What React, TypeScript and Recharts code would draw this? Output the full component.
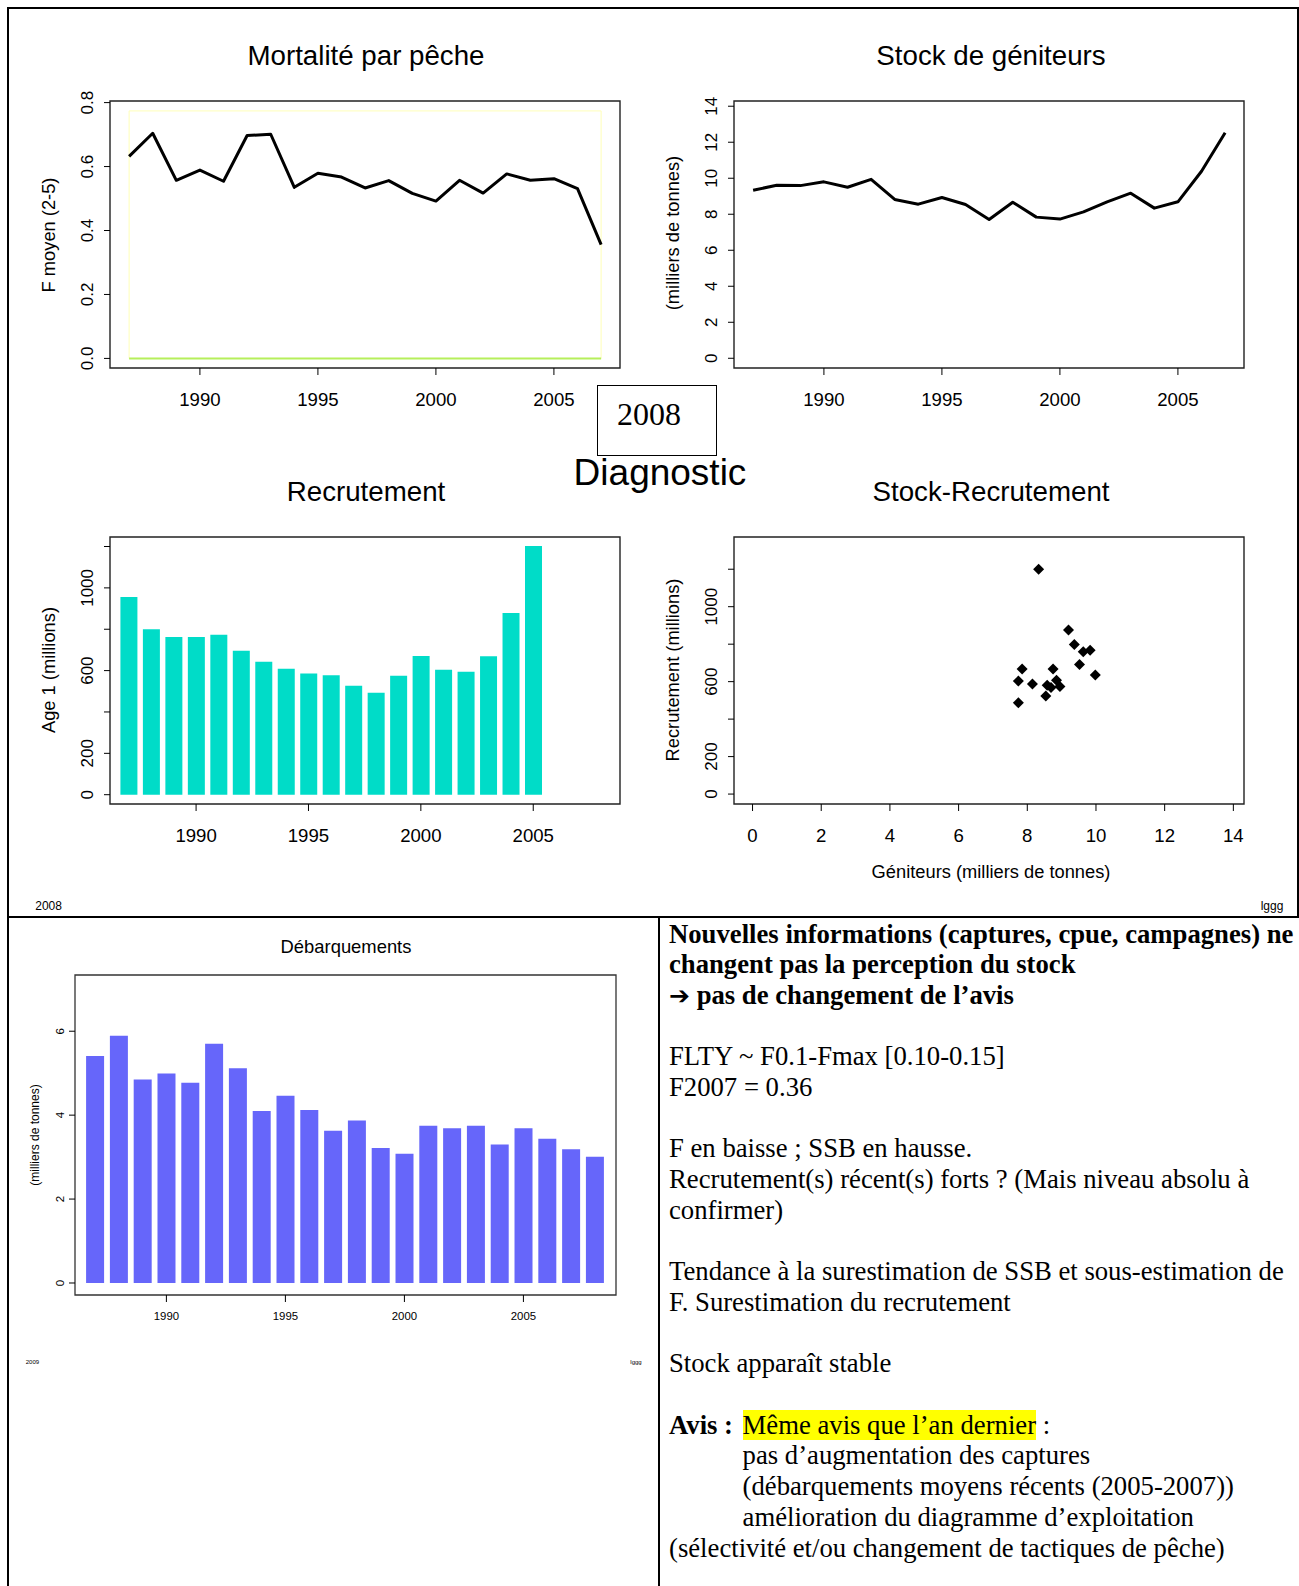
import React from 'react';
import {
  LineChart,
  Line,
  BarChart,
  Bar,
  ScatterChart,
  Scatter,
  XAxis,
  YAxis,
  ReferenceArea,
  ReferenceLine,
} from 'recharts';

const SANS = '"Liberation Sans", Arial, Helvetica, sans-serif';
const NARROW = '"Liberation Sans Narrow", "Liberation Sans", Arial, sans-serif';
const SERIF = '"Liberation Serif", "Times New Roman", serif';

// fishing mortality and spawning stock, 1987-2007
const years = [1987, 1988, 1989, 1990, 1991, 1992, 1993, 1994, 1995, 1996, 1997, 1998, 1999, 2000, 2001, 2002, 2003, 2004, 2005, 2006, 2007];
const fMean = [0.632, 0.704, 0.557, 0.589, 0.554, 0.697, 0.701, 0.535, 0.579, 0.567, 0.533, 0.556, 0.516, 0.492, 0.557, 0.517, 0.577, 0.557, 0.562, 0.531, 0.356];
const ssb = [9.33, 9.61, 9.59, 9.8, 9.5, 9.94, 8.82, 8.56, 8.93, 8.54, 7.71, 8.67, 7.84, 7.73, 8.13, 8.69, 9.17, 8.34, 8.69, 10.39, 12.53];
const fRefYears = [1987, 2007];
const fRefTop = 0.774;

// recruitment (age 1), 1987-2005
const recYears = [1987, 1988, 1989, 1990, 1991, 1992, 1993, 1994, 1995, 1996, 1997, 1998, 1999, 2000, 2001, 2002, 2003, 2004, 2005];
const recruits = [956, 800, 762, 762, 773, 696, 643, 609, 586, 578, 527, 493, 575, 671, 604, 594, 670, 879, 1203];

// stock-recruitment pairs
const srSsb = [8.33, 9.2, 9.37, 9.63, 9.83, 9.52, 9.98, 7.85, 7.74, 8.15, 7.74, 8.75, 8.58, 8.69, 8.85, 8.95, 8.54];
const srRec = [1200, 876, 798, 759, 768, 692, 636, 668, 603, 588, 487, 667, 581, 569, 608, 574, 523];

// landings, 1987-2008
const landYears = [1987, 1988, 1989, 1990, 1991, 1992, 1993, 1994, 1995, 1996, 1997, 1998, 1999, 2000, 2001, 2002, 2003, 2004, 2005, 2006, 2007, 2008];
const landings = [5.41, 5.89, 4.85, 4.99, 4.77, 5.7, 5.12, 4.1, 4.46, 4.12, 3.63, 3.87, 3.22, 3.08, 3.75, 3.69, 3.75, 3.3, 3.69, 3.44, 3.19, 3.01];

// ticks
const yearTicks = [1990, 1995, 2000, 2005];
const fTicks = [0, 0.2, 0.4, 0.6, 0.8];
const ssbTicks = [0, 2, 4, 6, 8, 10, 12, 14];
const recTicks = [0, 200, 400, 600, 800, 1000, 1200];
const recLabels = [0, 200, 600, 1000];
const srXTicks = [0, 2, 4, 6, 8, 10, 12, 14];
const landTicks = [0, 2, 4, 6];

const fData = years.map((year, i) => ({ year, f: fMean[i] }));
const ssbData = years.map((year, i) => ({ year, ssb: ssb[i] }));
const recData = recYears.map((year, i) => ({ year, rec: recruits[i] }));
const srData = srSsb.map((x, i) => ({ x, y: srRec[i] }));
const landData = landYears.map((year, i) => ({ year, land: landings[i] }));

// top four panels: plot box size and room round it
const YW = 60;
const MT = 20;
const MR = 20;
const XH = 50;
const BW = 510;
const BH = 267;

const xTick = (ly: number, fs: number) => (p: any) => (
  <text x={p.x} y={ly} textAnchor="middle" fontSize={fs} fontFamily={SANS} fill="#000">
    {p.payload.value}
  </text>
);

const yTick = (lx: number, fs: number, keep?: number[], fmt?: (v: number) => string) => (p: any) => {
  const v = p.payload.value;
  if (keep && !keep.includes(v)) return <g />;
  return (
    <text
      x={lx}
      y={p.y}
      transform={`rotate(-90 ${lx} ${p.y})`}
      textAnchor="middle"
      fontSize={fs}
      fontFamily={SANS}
      fill="#000"
    >
      {fmt ? fmt(v) : v}
    </text>
  );
};

const Diamond = (p: any) => {
  const { cx, cy } = p;
  const r = 5.5;
  return <polygon points={`${cx},${cy - r} ${cx + r},${cy} ${cx},${cy + r} ${cx - r},${cy}`} fill="#000" />;
};

function Txt({ x, y, size, children, rot, family = SANS, weight = 400 }: any) {
  return (
    <div
      style={{
        position: 'absolute',
        left: x,
        top: y,
        fontSize: size,
        fontFamily: family,
        fontWeight: weight,
        lineHeight: 1,
        whiteSpace: 'nowrap',
        transform: `translate(-50%, -50%)${rot ? ' rotate(-90deg)' : ''}`,
      }}
    >
      {children}
    </div>
  );
}

const frameStyle = (left: number, top: number): React.CSSProperties => ({
  position: 'absolute',
  left: left - YW,
  top: top - MT,
});

const X_TOP = [1986.19, 2007.8];
const X_REC = [1986.17, 2008.86];
const F_DOM = [-0.03, 0.805];
const SSB_DOM = [-0.54, 14.29];
const REC_DOM = [-45, 1246];
const SRX_DOM = [-0.54, 14.31];
const SRY_DOM = [-53, 1372];
const LX_DOM = [1986.16, 2008.89];
const LY_DOM = [-0.286, 7.34];

const XFS = 18.6;
const YFS = 17;

function Panels() {
  const axisTick = { stroke: '#000', strokeWidth: 1 };
  const cw = BW + YW + MR;
  const ch = BH + MT + XH;
  const m = { top: MT, right: MR, left: 0, bottom: 0 };
  return (
    <>
      {/* Mortalité par pêche */}
      <div style={frameStyle(110, 101)}>
        <LineChart width={cw} height={ch} data={fData} margin={m}>
          <XAxis dataKey="year" type="number" domain={X_TOP} ticks={yearTicks} interval={0} allowDataOverflow height={XH} tickSize={7} axisLine={false} tickLine={axisTick} tick={xTick(MT + BH + 38, XFS)} />
          <YAxis type="number" domain={F_DOM} ticks={fTicks} interval={0} allowDataOverflow width={YW} tickSize={6} axisLine={false} tickLine={axisTick} tick={yTick(YW - 17, YFS, undefined, (v) => v.toFixed(1))} />
          <ReferenceArea x1={fRefYears[0]} x2={fRefYears[1]} y1={0} y2={fRefTop} fill="none" stroke="#ffffb8" strokeWidth={1} ifOverflow="visible" />
          <ReferenceLine segment={[{ x: fRefYears[0], y: 0 }, { x: fRefYears[1], y: 0 }]} stroke="#b6ef5c" strokeWidth={2} ifOverflow="visible" />
          <ReferenceArea x1={X_TOP[0]} x2={X_TOP[1]} y1={F_DOM[0]} y2={F_DOM[1]} fill="none" stroke="#222" strokeWidth={1.4} ifOverflow="visible" />
          <Line dataKey="f" type="linear" stroke="#000" strokeWidth={3} dot={false} strokeLinejoin="round" isAnimationActive={false} />
        </LineChart>
      </div>

      {/* Stock de géniteurs */}
      <div style={frameStyle(734, 101)}>
        <LineChart width={cw} height={ch} data={ssbData} margin={m}>
          <XAxis dataKey="year" type="number" domain={X_TOP} ticks={yearTicks} interval={0} allowDataOverflow height={XH} tickSize={7} axisLine={false} tickLine={axisTick} tick={xTick(MT + BH + 38, XFS)} />
          <YAxis type="number" domain={SSB_DOM} ticks={ssbTicks} interval={0} allowDataOverflow width={YW} tickSize={6} axisLine={false} tickLine={axisTick} tick={yTick(YW - 17, YFS)} />
          <ReferenceArea x1={X_TOP[0]} x2={X_TOP[1]} y1={SSB_DOM[0]} y2={SSB_DOM[1]} fill="none" stroke="#222" strokeWidth={1.4} ifOverflow="visible" />
          <Line dataKey="ssb" type="linear" stroke="#000" strokeWidth={3} dot={false} strokeLinejoin="round" isAnimationActive={false} />
        </LineChart>
      </div>

      {/* Recrutement */}
      <div style={frameStyle(110, 537)}>
        <BarChart width={cw} height={ch} data={recData} margin={m}>
          <XAxis dataKey="year" type="number" domain={X_REC} ticks={yearTicks} interval={0} allowDataOverflow height={XH} tickSize={7} axisLine={false} tickLine={axisTick} tick={xTick(MT + BH + 38, XFS)} />
          <YAxis type="number" domain={REC_DOM} ticks={recTicks} interval={0} allowDataOverflow width={YW} tickSize={6} axisLine={false} tickLine={axisTick} tick={yTick(YW - 17, YFS, recLabels)} />
          <Bar dataKey="rec" fill="#00dcc8" barSize={17} isAnimationActive={false} />
          <ReferenceArea x1={X_REC[0]} x2={X_REC[1]} y1={REC_DOM[0]} y2={REC_DOM[1]} fill="none" stroke="#222" strokeWidth={1.4} ifOverflow="visible" />
        </BarChart>
      </div>

      {/* Stock-Recrutement */}
      <div style={frameStyle(734, 537)}>
        <ScatterChart width={cw} height={ch} margin={m}>
          <XAxis dataKey="x" type="number" domain={SRX_DOM} ticks={srXTicks} interval={0} allowDataOverflow height={XH} tickSize={7} axisLine={false} tickLine={axisTick} tick={xTick(MT + BH + 38, XFS)} />
          <YAxis dataKey="y" type="number" domain={SRY_DOM} ticks={recTicks} interval={0} allowDataOverflow width={YW} tickSize={6} axisLine={false} tickLine={axisTick} tick={yTick(YW - 17, YFS, recLabels)} />
          <ReferenceArea x1={SRX_DOM[0]} x2={SRX_DOM[1]} y1={SRY_DOM[0]} y2={SRY_DOM[1]} fill="none" stroke="#222" strokeWidth={1.4} ifOverflow="visible" />
          <Scatter data={srData} shape={Diamond} isAnimationActive={false} />
        </ScatterChart>
      </div>

      {/* Débarquements */}
      <div style={{ position: 'absolute', left: 75 - 40, top: 975 - MT }}>
        <BarChart width={541 + 40 + MR} height={320 + MT + 35} data={landData} margin={m}>
          <XAxis dataKey="year" type="number" domain={LX_DOM} ticks={yearTicks} interval={0} allowDataOverflow height={35} tickSize={7} axisLine={false} tickLine={axisTick} tick={xTick(MT + 320 + 25, 11.4)} />
          <YAxis type="number" domain={LY_DOM} ticks={landTicks} interval={0} allowDataOverflow width={40} tickSize={6} axisLine={false} tickLine={axisTick} tick={yTick(40 - 11, 11.5)} />
          <Bar dataKey="land" fill="#6666fa" barSize={18} isAnimationActive={false} />
          <ReferenceArea x1={LX_DOM[0]} x2={LX_DOM[1]} y1={LY_DOM[0]} y2={LY_DOM[1]} fill="none" stroke="#333" strokeWidth={1.3} ifOverflow="visible" />
        </BarChart>
      </div>
    </>
  );
}

const line = (left: number, top: number, width: number, height: number): React.CSSProperties => ({
  position: 'absolute',
  left,
  top,
  width,
  height,
  background: '#000',
});

const LH = 30.7;
const TX = 669;
const TIND = 742.6;
const T0 = 918.5;
const TFS = 26.7;

function Row({ n, x = TX, bold, children }: any) {
  return (
    <div
      style={{
        position: 'absolute',
        left: x,
        top: T0 + n * LH,
        height: LH,
        lineHeight: `${LH}px`,
        fontSize: TFS,
        fontFamily: SERIF,
        fontWeight: bold ? 700 : 400,
        whiteSpace: 'nowrap',
      }}
    >
      {children}
    </div>
  );
}

export default function App() {
  return (
    <div style={{ position: 'absolute', left: 0, top: 0, width: 1299, height: 1586, background: '#fff', overflow: 'hidden' }}>
      {/* slide frame */}
      <div style={line(7, 7, 1292, 2)} />
      <div style={line(7, 7, 2, 1579)} />
      <div style={line(1297, 7, 2, 911)} />
      <div style={line(7, 916, 1292, 2)} />
      <div style={line(658, 916, 2, 670)} />

      <Panels />

      <Txt x={366} y={56} size={27.7}>Mortalité par pêche</Txt>
      <Txt x={991} y={56} size={27.7}>Stock de géniteurs</Txt>
      <Txt x={366} y={492} size={27.7}>Recrutement</Txt>
      <Txt x={991} y={492} size={27.7}>Stock-Recrutement</Txt>
      <Txt x={48.6} y={235} size={18.3} rot>F moyen (2-5)</Txt>
      <Txt x={673} y={233} size={18.3} rot>(milliers de tonnes)</Txt>
      <Txt x={48.6} y={670} size={18.3} rot>Age 1 (millions)</Txt>
      <Txt x={673} y={670} size={18.3} rot>Recrutement (millions)</Txt>
      <Txt x={991} y={872} size={18.3}>Géniteurs (milliers de tonnes)</Txt>

      <div style={{ position: 'absolute', left: 597, top: 385, width: 118, height: 69, border: '1.5px solid #000' }} />
      <Txt x={649} y={414} size={32} family={SERIF}>2008</Txt>
      <Txt x={660} y={472} size={37}>Diagnostic</Txt>

      <Txt x={48.6} y={906} size={12} family={NARROW}>2008</Txt>
      <Txt x={1272} y={906} size={12} family={NARROW}>lggg</Txt>

      <Txt x={346} y={947} size={18.4}>Débarquements</Txt>
      <Txt x={35} y={1135} size={12} rot>(milliers de tonnes)</Txt>
      <Txt x={32.4} y={1362} size={6}>2009</Txt>
      <Txt x={636} y={1362} size={6}>lggg</Txt>

      <Row n={0} bold>Nouvelles informations (captures, cpue, campagnes) ne</Row>
      <Row n={1} bold>changent pas la perception du stock</Row>
      <Row n={2} bold>
        <span style={{ fontFamily: '"DejaVu Sans", sans-serif', fontSize: 25 }}>➔</span> pas de changement de l’avis
      </Row>
      <Row n={4}>FLTY ~ F0.1-Fmax [0.10-0.15]</Row>
      <Row n={5}>F2007 = 0.36</Row>
      <Row n={7}>F en baisse ; SSB en hausse.</Row>
      <Row n={8}>Recrutement(s) récent(s) forts ? (Mais niveau absolu à</Row>
      <Row n={9}>confirmer)</Row>
      <Row n={11}>Tendance à la surestimation de SSB et sous-estimation de</Row>
      <Row n={12}>F. Surestimation du recrutement</Row>
      <Row n={14}>Stock apparaît stable</Row>
      <Row n={16} bold>Avis :</Row>
      <Row n={16} x={TIND}>
        <span style={{ background: '#ffff00' }}>Même avis que l’an dernier</span> :
      </Row>
      <Row n={17} x={TIND}>pas d’augmentation des captures</Row>
      <Row n={18} x={TIND}>(débarquements moyens récents (2005-2007))</Row>
      <Row n={19} x={TIND}>amélioration du diagramme d’exploitation</Row>
      <Row n={20}>(sélectivité et/ou changement de tactiques de pêche)</Row>
    </div>
  );
}
